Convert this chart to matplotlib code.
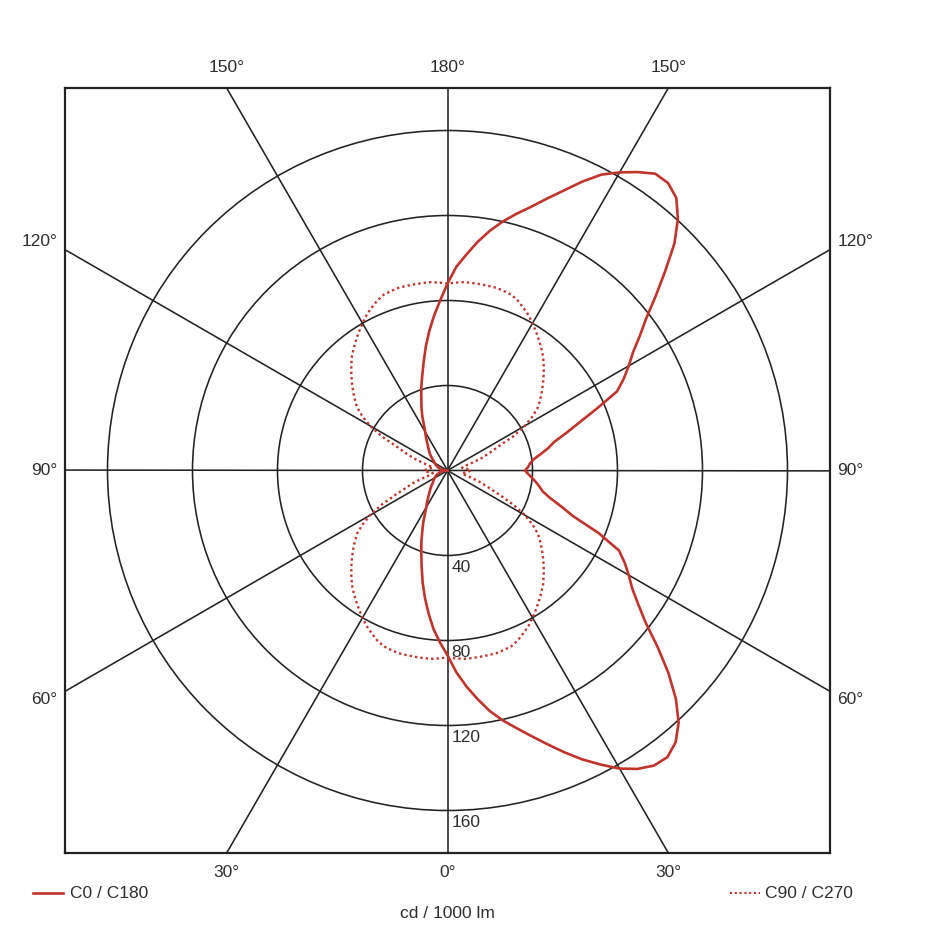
import numpy as np
import matplotlib
matplotlib.use('Agg')
import matplotlib.pyplot as plt
from matplotlib.patches import Circle
from matplotlib.lines import Line2D

plt.rcParams['font.family'] = ['Liberation Sans', 'DejaVu Sans']

# gamma angles (0 = straight down, 180 = straight up), 2.5 degree steps
gamma = np.arange(0, 180.1, 2.5)

# cd / 1000 lm
c0 = [87, 95, 102, 108.5, 115, 120.5, 125.5, 131, 137, 143.5, 150, 156, 162, 166.5,
      169.5, 170, 167, 161, 152, 141, 129, 117.5, 109.5, 103, 98.5, 94, 89, 77, 63,
      56, 50, 46, 44, 42, 40, 38, 36.5,
      38, 39, 41, 44.5, 48.5, 52, 58.5, 66, 76, 88, 93.5, 98.5, 103.5, 110.5, 118,
      128, 139, 151, 160.5, 167.5, 170.5, 170.5, 166.5, 162, 157, 150, 142.5, 136,
      130, 125, 120, 114.5, 108.5, 102, 96, 88]
c180 = [87, 81, 75, 68, 61, 54, 47, 41, 36, 31, 27, 23, 20, 18, 16, 14.5, 13, 12,
        11, 10, 9, 8.5, 8, 7.5, 7, 6.5, 6, 5.5, 5, 4.5, 4, 3.5, 3, 2.2, 1.5, 0.7, 0,
        0.7, 1.5, 2.2, 3, 3.5, 4, 4.5, 5, 5.5, 6, 6.5, 7, 7.5, 8, 9, 10, 11, 12, 13,
        14, 15.5, 17, 19, 21, 24, 28, 32, 36, 41, 46, 52, 59, 66, 73, 80, 88]
c90 = [88, 88.5, 89, 89, 89, 89, 89, 88.5, 88, 86.5, 84.5, 82.5, 80, 77.5, 75, 72.5,
       70, 67, 64, 61, 58, 55, 52, 47.5, 42, 35, 27, 21, 17, 12.5, 9, 7.5, 7, 8, 9,
       10, 11,
       10, 9, 8, 7, 7.5, 9, 12.5, 17, 21, 26, 35, 42, 47.5, 52, 55, 58, 61, 64, 67,
       70, 72.5, 75, 77.5, 80, 82.5, 84.5, 86.5, 88, 88.5, 89, 89, 89, 89, 89, 88.5, 88]
c270 = list(c90)  # C90 and C270 planes are symmetric

rings = [40, 80, 120, 160]
spokes = [0, 30, 60, 90, 120, 150]
half = 180

red = '#c0342c'
grid = '#222222'
txt = '#2e2e2e'


def to_xy(vals, side):
    g = np.radians(gamma)
    v = np.array(vals, dtype=float)
    return side * v * np.sin(g), -v * np.cos(g)


fig = plt.figure(figsize=(9.4, 9.4), dpi=100)
ax = fig.add_axes([65 / 940, 87 / 940, 765 / 940, 765 / 940])
ax.set_xlim(-half, half)
ax.set_ylim(-half, half)
ax.set_aspect('equal')
ax.set_xticks([])
ax.set_yticks([])
for s in ax.spines.values():
    s.set_linewidth(1.6)
    s.set_color(grid)

for r in rings:
    ax.add_patch(Circle((0, 0), r, fill=False, ec=grid, lw=1.15))
    ax.text(2, -r - 2, str(r), ha='left', va='top', fontsize=12.5, color=txt)

for a in spokes:
    t = np.radians(a)
    L = 400
    ax.plot([-L * np.sin(t), L * np.sin(t)], [L * np.cos(t), -L * np.cos(t)],
            color=grid, lw=1.15)

# C0 / C180 solid curve
x0, y0 = to_xy(c0, 1)
x1, y1 = to_xy(c180, -1)
n = len(gamma) // 2
sx = np.concatenate([x1[n::-1], x0, x1[:n - 1:-1]])
sy = np.concatenate([y1[n::-1], y0, y1[:n - 1:-1]])
ax.plot(sx, sy, color=red, lw=1.9, solid_joinstyle='round')

# C90 / C270 dotted curve
x2, y2 = to_xy(c90, 1)
x3, y3 = to_xy(c270, -1)
dx = np.concatenate([x2, x3[::-1]])
dy = np.concatenate([y2, y3[::-1]])
ax.plot(dx, dy, color=red, lw=1.7, ls=(0, (1, 1.3)))

# angle labels round the box
off = half * np.tan(np.radians(30))
for x, lab in [(-off, '30°'), (0, '0°'), (off, '30°')]:
    ax.text(x, -half - 9, lab, ha='center', va='center', fontsize=12.5, color=txt, clip_on=False)
for x, lab in [(-off, '150°'), (0, '180°'), (off, '150°')]:
    ax.text(x, half + 9.5, lab, ha='center', va='center', fontsize=12.5, color=txt, clip_on=False)
for y, lab in [(off + 4, '120°'), (0, '90°'), (-off - 4, '60°')]:
    ax.text(-half - 3.5, y, lab, ha='right', va='center', fontsize=12.5, color=txt, clip_on=False)
    ax.text(half + 3.5, y, lab, ha='left', va='center', fontsize=12.5, color=txt, clip_on=False)

# legend and unit
yl = 1 - 893 / 940
fig.add_artist(Line2D([33 / 940, 63 / 940], [yl, yl], color=red, lw=1.9))
fig.text(70 / 940, yl, 'C0 / C180', ha='left', va='center', fontsize=12.5, color=txt)
fig.add_artist(Line2D([730 / 940, 760 / 940], [yl, yl], color=red, lw=1.5, ls=(0, (1, 1.3))))
fig.text(765 / 940, yl, 'C90 / C270', ha='left', va='center', fontsize=12.5, color=txt)
fig.text(447.5 / 940, 1 - 914 / 940, 'cd / 1000 lm', ha='center', va='center', fontsize=12.5, color=txt)

fig.savefig('out.png', dpi=100)
